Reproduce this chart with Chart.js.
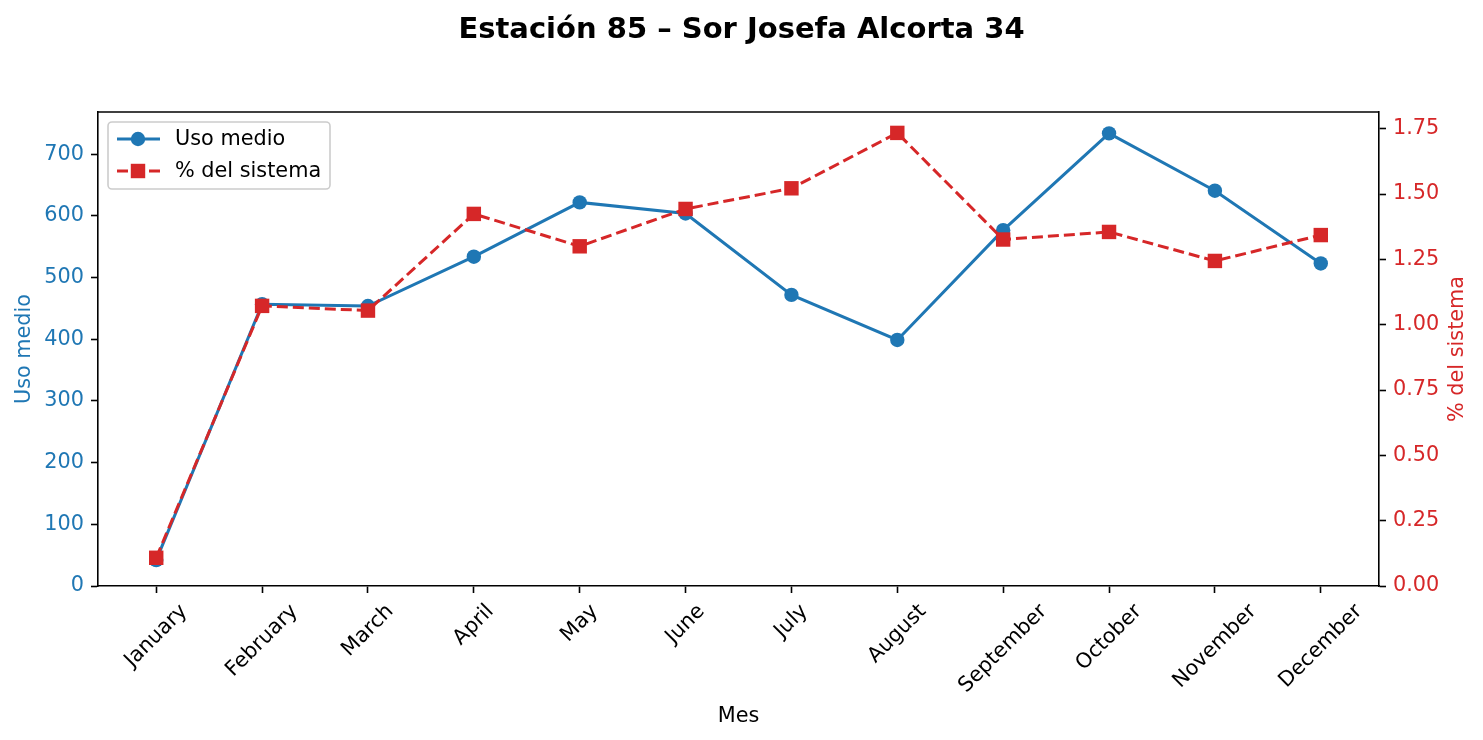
<!DOCTYPE html>
<html>
<head>
<meta charset="utf-8">
<script src="https://cdn.jsdelivr.net/npm/chart.js@4"></script>
<style>
  html, body { margin: 0; padding: 0; background: #fff; }
</style>
</head>
<body>
<canvas id="grafico" width="1483" height="740"></canvas>
<script>
const meses = ["January", "February", "March", "April", "May", "June",
               "July", "August", "September", "October", "November", "December"];
const usoMedio = [42, 457, 454, 534, 622, 604, 472, 399, 577, 734, 641, 523];
const pctSistema = [0.108, 1.072, 1.054, 1.424, 1.300, 1.443, 1.522, 1.734, 1.326, 1.355, 1.244, 1.343];
const ticksUso = [0, 100, 200, 300, 400, 500, 600, 700];
const ticksPct = [0, 0.25, 0.5, 0.75, 1, 1.25, 1.5, 1.75];

const FONT = "'DejaVu Sans', sans-serif";
const FS = 20.8;
const AZUL = "#1f77b4";
const ROJO = "#d62728";

// caja completa alrededor del area (falta el borde de arriba)
const marco = {
    id: "marco",
    afterDatasetsDraw(chart) {
        const { ctx, chartArea: a } = chart;
        ctx.save();
        ctx.strokeStyle = "#000";
        ctx.lineWidth = 1.6;
        ctx.beginPath();
        ctx.moveTo(a.left, a.top);
        ctx.lineTo(a.right, a.top);
        ctx.stroke();
        ctx.restore();
    }
};

// etiquetas del eje x giradas 45 y centradas bajo cada marca
const etiquetasX = {
    id: "etiquetasX",
    afterDraw(chart) {
        const { ctx, scales: { x } } = chart;
        const c = Math.SQRT1_2;
        const h = FS * 1.12;
        ctx.save();
        ctx.font = FS + "px " + FONT;
        ctx.fillStyle = "#000";
        ctx.textAlign = "center";
        ctx.textBaseline = "middle";
        meses.forEach((m, i) => {
            const w = ctx.measureText(m).width;
            const bh = (w + h) * c;
            const px = x.getPixelForValue(i);
            const py = x.top + 14 + bh / 2;
            ctx.save();
            ctx.translate(px, py);
            ctx.rotate(-Math.PI / 4);
            ctx.fillText(m, 0, 0);
            ctx.restore();
        });
        ctx.restore();
    }
};

// titulo del eje derecho, leido de abajo hacia arriba como el izquierdo
const tituloDerecho = {
    id: "tituloDerecho",
    afterDraw(chart) {
        const { ctx, scales: { y1 } } = chart;
        ctx.save();
        ctx.font = FS + "px " + FONT;
        ctx.fillStyle = ROJO;
        ctx.textAlign = "center";
        ctx.textBaseline = "middle";
        ctx.translate(1458, (y1.top + y1.bottom) / 2);
        ctx.rotate(-Math.PI / 2);
        ctx.fillText("% del sistema", 0, 0);
        ctx.restore();
    }
};

const leyenda = {
    id: "leyenda",
    afterDraw(chart) {
        const { ctx, chartArea: a } = chart;
        const x0 = a.left + 10, y0 = a.top + 10, w = 222, hg = 67;
        ctx.save();
        ctx.beginPath();
        ctx.roundRect(x0, y0, w, hg, 4);
        ctx.fillStyle = "rgba(255,255,255,0.8)";
        ctx.fill();
        ctx.strokeStyle = "#cccccc";
        ctx.lineWidth = 1.6;
        ctx.stroke();
        chart.data.datasets.forEach((ds, k) => {
            const cy = y0 + 17 + k * 32;
            ctx.strokeStyle = ds.borderColor;
            ctx.lineWidth = ds.borderWidth;
            ctx.setLineDash(ds.borderDash || []);
            ctx.beginPath();
            ctx.moveTo(x0 + 9, cy);
            ctx.lineTo(x0 + 52, cy);
            ctx.stroke();
            ctx.setLineDash([]);
            ctx.fillStyle = ds.backgroundColor;
            const mx = x0 + 30;
            if (ds.pointStyle === "rect") {
                const s = ds.pointRadius * Math.SQRT1_2;
                ctx.fillRect(mx - s, cy - s, 2 * s, 2 * s);
            } else {
                ctx.beginPath();
                ctx.arc(mx, cy, ds.pointRadius, 0, Math.PI * 2);
                ctx.fill();
            }
            ctx.fillStyle = "#000";
            ctx.font = FS + "px " + FONT;
            ctx.textAlign = "left";
            ctx.textBaseline = "middle";
            ctx.fillText(ds.label, x0 + 67, cy + 1);
        });
        ctx.restore();
    }
};

const tickGrid = {
    display: true,
    drawOnChartArea: false,
    drawTicks: true,
    tickLength: 7,
    tickWidth: 1.6,
    tickColor: "#000"
};
const borde = { display: true, color: "#000", width: 1.6 };

const ctx = document.getElementById("grafico").getContext("2d");
const chart = new Chart(ctx, {
    type: "line",
    data: {
        datasets: [
            {
                label: "Uso medio",
                data: usoMedio.map((v, i) => ({ x: i, y: v })),
                yAxisID: "y",
                borderColor: AZUL,
                backgroundColor: AZUL,
                borderWidth: 3,
                pointStyle: "circle",
                pointRadius: 7.2,
                pointBorderWidth: 0,
                pointBorderColor: AZUL,
                fill: false,
                order: 1
            },
            {
                label: "% del sistema",
                data: pctSistema.map((v, i) => ({ x: i, y: v })),
                yAxisID: "y1",
                borderColor: ROJO,
                backgroundColor: ROJO,
                borderWidth: 3,
                borderDash: [11, 5],
                pointStyle: "rect",
                pointRadius: 10.2,
                pointBorderWidth: 0,
                pointBorderColor: ROJO,
                fill: false,
                order: 0
            }
        ]
    },
    options: {
        responsive: false,
        animation: false,
        devicePixelRatio: 1,
        layout: { padding: 0 },
        plugins: {
            legend: { display: false },
            tooltip: { enabled: false },
            title: {
                display: true,
                text: "Estación 85 – Sor Josefa Alcorta 34",
                color: "#000",
                font: { family: FONT, size: 29, weight: "bold" },
                padding: { top: 12.6, bottom: 64.6 }
            }
        },
        scales: {
            x: {
                type: "linear",
                min: -0.55,
                max: 11.55,
                afterBuildTicks: s => { s.ticks = meses.map((m, i) => ({ value: i })); },
                afterFit: s => { s.height = 154; },
                ticks: { display: false },
                grid: tickGrid,
                border: borde,
                title: {
                    display: true,
                    text: "Mes",
                    color: "#000",
                    font: { family: FONT, size: FS },
                    padding: { top: 0, bottom: 11 }
                }
            },
            y: {
                position: "left",
                min: 0,
                max: 768.6,
                afterBuildTicks: s => { s.ticks = ticksUso.map(v => ({ value: v })); },
                afterFit: s => { s.width = 98; },
                ticks: { color: AZUL, font: { family: FONT, size: FS }, padding: 7 },
                grid: tickGrid,
                border: borde,
                title: {
                    display: true,
                    text: "Uso medio",
                    color: AZUL,
                    font: { family: FONT, size: FS },
                    padding: { top: 12, bottom: 0 }
                }
            },
            y1: {
                position: "right",
                min: 0,
                max: 1.814,
                afterBuildTicks: s => { s.ticks = ticksPct.map(v => ({ value: v })); },
                afterFit: s => { s.width = 104; },
                ticks: {
                    color: ROJO,
                    font: { family: FONT, size: FS },
                    padding: 7,
                    callback: v => v.toFixed(2)
                },
                grid: tickGrid,
                border: borde,
                title: { display: false }
            }
        }
    },
    plugins: [marco, etiquetasX, tituloDerecho, leyenda]
});
</script>
</body>
</html>
